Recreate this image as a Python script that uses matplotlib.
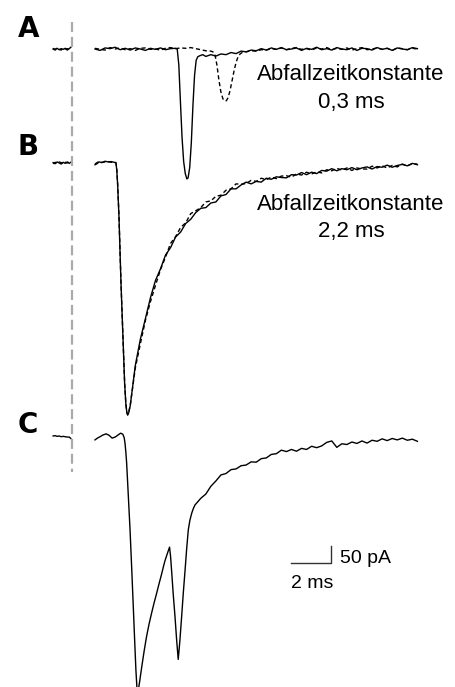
import matplotlib
matplotlib.use('Agg')
import matplotlib.pyplot as plt
import numpy as np

# ---- data (time in ms, current in pA relative to each baseline) ----
pre_t = [-2.08, -1.98, -1.88, -1.78, -1.68, -1.58, -1.48, -1.38, -1.28, -1.2]
a_pre_solid = [0, -3, 2, -2, 1, -1, 2, -3, 1, 5]
a_pre_dash = [2, -1, 3, -1, -3, 2, 0, 1, -2, 4]
b_pre_solid = [1, -2, 3, 0, -3, 2, -1, 3, -1, 2]
b_pre_dash = [-2, 2, -1, 3, 1, -2, 2, 0, 3, -1]
c_pre = [0, 1, -1, 0, -2, -1, -2, -3, -3, -7]

# A, solid trace
a_solid_t = np.r_[np.arange(0, 4.01, 0.25),
                  [4.08, 4.16, 4.24, 4.32, 4.40, 4.48, 4.56, 4.62, 4.70, 4.78,
                   4.86, 4.94, 5.02, 5.10, 5.20, 5.35],
                  np.arange(5.5, 16.01, 0.25)]
a_solid = [0, -4, 3, 1, 5, -2, 2, -3, 3, 0, -4, 2, -1, 3, -2, 1, 2,
           0, -45, -150, -250, -318, -352, -367, -364, -335, -265,
           -160, -75, -32, -22, -19, -16,
           -21, -16, -20, -14, -16, -10, -13, -6, -8, -3,
           -5, 1, -3, 3, -1, 4, -2, 0, 3, -4,
           2, -1, 5, -2, 1, -3, 4, 0, -2, 3,
           -4, 2, 1, -3, 4, -1, 2, -4, 3, 0,
           -2, 4, 1]

# A, dashed trace
a_dash_t = np.r_[np.arange(0, 5.76, 0.25),
                 [5.85, 5.95, 6.05, 6.15, 6.25, 6.35, 6.45, 6.52, 6.6, 6.7,
                  6.8, 6.9, 7.0, 7.1, 7.2, 7.3],
                 np.arange(7.5, 16.01, 0.25)]
a_dash = [2, -1, -3, 4, 0, 3, -2, 1, -4, 2,
          3, -1, 0, -3, 2, 4, 1, 3, 2, 4,
          1, -2, -5, -6,
          -8, -15, -45, -88, -122, -141, -147, -146, -138, -118,
          -90, -62, -38, -22, -14, -10,
          -8, -5, -6, -2, -3, 1, -1, 3, -2, 2,
          4, -1, 1, -3, 3, 0, 4, -2, 2, -1,
          3, -3, 1, 4, -2, 0, 3, -1, 2, -4,
          3, 1, -2, 2, 0]

# B, solid and dashed traces
b_t = np.r_[[0.0, 0.1, 0.2, 0.35, 0.5, 0.65, 0.8, 0.95, 1.04],
            [1.08, 1.12, 1.19, 1.29, 1.41, 1.47, 1.53, 1.58, 1.62, 1.67, 1.75],
            np.arange(2.0, 16.01, 0.25)]
b_solid = [-5, -2, 3, 1, 5, 3, 4, 2, 1,
           -20, -57, -152, -340, -528, -622, -680, -705, -712, -706, -685,
           -572, -498, -440, -381, -332, -299, -260, -239, -209, -195,
           -171, -159, -140, -128, -126, -113, -110, -93, -89, -73,
           -73, -62, -54, -59, -52, -54, -43, -46, -39, -41,
           -42, -33, -34, -27, -33, -26, -30, -21, -23, -16,
           -22, -16, -19, -13, -19, -14, -11, -17, -10, -12,
           -6, -12, -7, -4, -8, -1, -5]
b_dash = [-3, 1, 4, 2, 3, 4, 2, 3, 0,
          -18, -55, -150, -338, -526, -620, -679, -704, -711, -705, -684,
          -579, -511, -445, -392, -346, -301, -266, -227, -208, -182,
          -169, -143, -135, -126, -110, -107, -94, -91, -77, -73,
          -59, -60, -58, -49, -52, -43, -47, -40, -44, -37,
          -36, -40, -31, -34, -26, -31, -25, -28, -19, -22,
          -15, -20, -14, -21, -14, -17, -17, -9, -14, -8,
          -14, -7, -11, -3, -8, -2, -3]

# C, single trace with two peaks
c_t = np.r_[[0.0, 0.12, 0.25, 0.4, 0.55, 0.7, 0.85, 1.0, 1.15, 1.27,
             1.38, 1.45, 1.49, 1.53, 1.57, 1.65, 1.74, 1.82, 1.90, 1.97,
             2.03, 2.08, 2.11, 2.15, 2.22, 2.32, 2.44, 2.56, 2.68, 2.81,
             2.93, 3.06, 3.18, 3.31, 3.40, 3.47, 3.55, 3.62, 3.70, 3.75,
             3.80, 3.88, 3.97, 4.05, 4.13, 4.21, 4.30, 4.38, 4.47, 4.55,
             4.63, 4.71, 4.80, 4.88, 4.96],
            np.arange(5.25, 16.01, 0.25)]
c_vals = [-11, -6, -2, 3, 6, 2, -6, -3, 3, 8,
          5, -5, -21, -45, -76, -165, -266, -372, -482, -580,
          -661, -710, -728, -718, -692, -652, -607, -566, -532, -500,
          -472, -444, -417, -389, -368, -353, -339, -327, -314, -340,
          -379, -445, -510, -575, -631, -580, -510, -445, -379, -318,
          -265, -238, -218, -205, -195,
          -176, -164, -142, -127, -110, -106, -95, -93, -84, -82,
          -73, -74, -64, -62, -52, -50, -40, -44, -38, -43,
          -35, -38, -29, -33, -28, -18, -14, -32, -22, -24,
          -17, -21, -14, -20, -12, -15, -8, -13, -7, -11,
          -6, -12, -9, -15]

panel_labels = ['A', 'B', 'C']
decay_labels = ['Abfallzeitkonstante', '0,3 ms', '2,2 ms']
scale_ms = 2
scale_pA = 50

# ---- layout (pixel geometry of the reference) ----
W, H = 456, 687
PX_PER_MS = 20.15
PX_PER_PA = 0.354
T0_PX = 95
offset_a = -49 / PX_PER_PA
offset_b = -163 / PX_PER_PA
offset_c = -436 / PX_PER_PA


def fx(px):
    return px / W


def fy(px):
    return 1 - px / H


def main():
    fig = plt.figure(figsize=(W / 100, H / 100), dpi=100)
    ax = fig.add_axes([0, 0, 1, 1])
    ax.set_xlim(-T0_PX / PX_PER_MS, (W - T0_PX) / PX_PER_MS)
    ax.set_ylim(-H / PX_PER_PA, 0)
    ax.axis('off')

    solid = dict(color='black', lw=1.0)
    dashed = dict(color='black', lw=1.0, linestyle=(0, (3, 2)))

    # traces
    for off, pre_s, pre_d in [(offset_a, a_pre_solid, a_pre_dash),
                              (offset_b, b_pre_solid, b_pre_dash)]:
        ax.plot(pre_t, off + np.array(pre_s), **solid)
        ax.plot(pre_t, off + np.array(pre_d), **dashed)
    ax.plot(pre_t, offset_c + np.array(c_pre), **solid)

    ax.plot(a_dash_t, offset_a + np.array(a_dash), **dashed)
    ax.plot(a_solid_t, offset_a + np.array(a_solid), **solid)
    ax.plot(b_t, offset_b + np.array(b_dash), **dashed)
    ax.plot(b_t, offset_b + np.array(b_solid), **solid)
    ax.plot(c_t, offset_c + np.array(c_vals), **solid)

    # stimulus marker
    t_mark = (72 - T0_PX) / PX_PER_MS
    ax.plot([t_mark, t_mark], [-22 / PX_PER_PA, -472 / PX_PER_PA],
            color='#aaaaaa', lw=1.6, linestyle=(0, (4.5, 2.2)))

    # scale bar
    sb_t = (290.7 - T0_PX) / PX_PER_MS
    sb_y = -563.3 / PX_PER_PA
    ax.plot([sb_t, sb_t + scale_ms, sb_t + scale_ms],
            [sb_y, sb_y, sb_y + scale_pA], color='#333333', lw=1.0)

    # text
    font = 'Liberation Sans'
    for lab, ybase in zip(panel_labels, [37, 155, 433]):
        fig.text(fx(18), fy(ybase), lab, fontsize=20, fontweight='bold',
                 family='DejaVu Sans', va='baseline', ha='left')
    fig.text(fx(351), fy(80), decay_labels[0], fontsize=16, family=font,
             ha='center', va='baseline')
    fig.text(fx(351), fy(108), decay_labels[1], fontsize=16, family=font,
             ha='center', va='baseline')
    fig.text(fx(351), fy(210), decay_labels[0], fontsize=16, family=font,
             ha='center', va='baseline')
    fig.text(fx(351), fy(237), decay_labels[2], fontsize=16, family=font,
             ha='center', va='baseline')
    fig.text(fx(340), fy(563), f'{scale_pA} pA', fontsize=14, family=font,
             ha='left', va='baseline')
    fig.text(fx(291.5), fy(588), f'{scale_ms} ms', fontsize=14, family=font,
             ha='left', va='baseline')

    fig.savefig('out.png', dpi=100)


if __name__ == '__main__':
    main()
